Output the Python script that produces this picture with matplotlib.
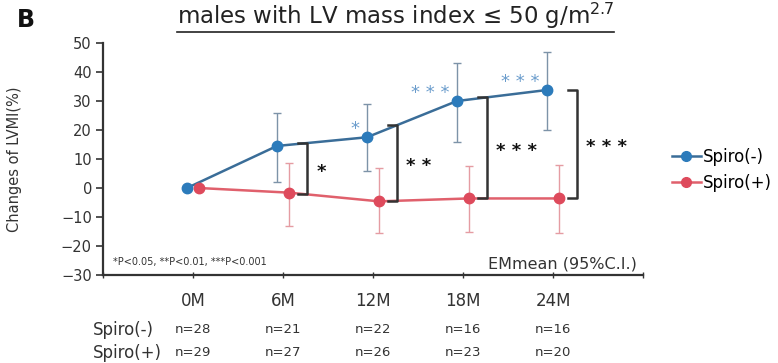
import numpy as np
import matplotlib
matplotlib.use('Agg')
import matplotlib.pyplot as plt
from matplotlib.lines import Line2D

plt.rcParams['font.family'] = ['DejaVu Sans']
plt.rcParams['mathtext.default'] = 'regular'

# data
months = ['0M', '6M', '12M', '18M', '24M']
spiro_minus = [0, 14.5, 17.5, 30.0, 33.8]
minus_lo = [0, 2.0, 6.0, 16.0, 20.0]
minus_hi = [0, 26.0, 29.0, 43.0, 47.0]
spiro_plus = [0, -1.6, -4.6, -3.6, -3.6]
plus_lo = [0, -13.0, -15.5, -15.0, -15.5]
plus_hi = [0, 8.7, 7.0, 7.5, 8.0]
n_minus = [28, 21, 22, 16, 16]
n_plus = [29, 27, 26, 23, 20]
between_sig = ['', '*', '**', '***', '***']   # Spiro(-) vs Spiro(+)
within_sig = ['', '', '*', '***', '***']       # Spiro(-) vs baseline

blue = '#2c7bbb'
blue_line = '#3a6d98'
blue_err = '#7d93a8'
red = '#de4a5c'
red_line = '#e0606c'
red_err = '#e59ca3'
txt = '#333333'

fig = plt.figure(figsize=(7.78, 3.63), dpi=100)
ax = fig.add_axes([0.1324, 0.2424, 0.6941, 0.6391])

x = np.arange(1, len(months) + 1)
off = 0.067
xm = x - off
xp = x + off

m = np.array(spiro_minus)
p = np.array(spiro_plus)
ax.errorbar(xm[1:], m[1:], yerr=[m[1:] - np.array(minus_lo[1:]), np.array(minus_hi[1:]) - m[1:]],
            fmt='none', ecolor=blue_err, elinewidth=1, capsize=3, capthick=1, zorder=2)
ax.errorbar(xp[1:], p[1:], yerr=[p[1:] - np.array(plus_lo[1:]), np.array(plus_hi[1:]) - p[1:]],
            fmt='none', ecolor=red_err, elinewidth=1, capsize=3, capthick=1, zorder=2)
ax.plot(xm, m, color=blue_line, lw=1.8, zorder=3)
ax.plot(xm, m, 'o', color=blue, ms=7.5, zorder=4)
ax.plot(xp, p, color=red_line, lw=1.8, zorder=3)
ax.plot(xp, p, 'o', color=red, ms=7.5, zorder=4)

# brackets between groups
for i, s in enumerate(between_sig):
    if not s:
        continue
    bx = x[i] + 0.27
    top = np.interp(bx, xm, m)
    bot = np.interp(bx, xp, p)
    ax.plot([bx - 0.1, bx, bx, bx - 0.1], [top, top, bot, bot], color='#333333', lw=1.8, zorder=5)
    ax.text(bx + 0.1, (top + bot) / 2 - 1.0, ' '.join(s), ha='left', va='center',
            fontsize=13, color='#111111', fontweight='bold')

# stars for Spiro(-) vs baseline
for i, s in enumerate(within_sig):
    if not s:
        continue
    ax.text(xm[i] - 0.08, m[i] + 2.8, ' '.join(s), ha='right', va='center',
            fontsize=13, color='#6a9ccc')

ax.set_xlim(0, 6)
ax.set_ylim(-30, 50)
ax.set_yticks(range(-30, 51, 10))
ax.set_xticks(range(0, 7))
ax.set_xticklabels([''] + months + [''])
ax.spines['top'].set_visible(False)
ax.spines['right'].set_visible(False)
for sp in ['left', 'bottom']:
    ax.spines[sp].set_color('#333333')
    ax.spines[sp].set_linewidth(1.6)
ax.tick_params(axis='y', direction='out', length=5, width=1.2, colors='#333333', labelsize=10.5, pad=3)
ax.tick_params(axis='x', direction='inout', length=5, width=1, colors='#333333', labelsize=12, pad=10)
ax.set_ylabel('Changes of LVMI(%)', fontsize=10.5, color=txt)
ax.yaxis.set_label_coords(-0.15, 0.5)

ax.text(0.11, -25.5, '*P<0.05, **P<0.01, ***P<0.001', fontsize=7, color=txt, ha='left', va='center')
ax.text(5.93, -26.3, 'EMmean (95%C.I.)', fontsize=11.5, color=txt, ha='right', va='center')

# n table under the axis
tr = ax.get_xaxis_transform()
ax.text(-0.11, -0.237, 'Spiro(-)', transform=tr, fontsize=12, color=txt, ha='left', va='center')
ax.text(-0.11, -0.336, 'Spiro(+)', transform=tr, fontsize=12, color=txt, ha='left', va='center')
for xi, a, b in zip(x, n_minus, n_plus):
    ax.text(xi, -0.237, f'n={a}', transform=tr, fontsize=9.5, color=txt, ha='center', va='center')
    ax.text(xi, -0.336, f'n={b}', transform=tr, fontsize=9.5, color=txt, ha='center', va='center')

# legend handles with line + marker
handles = [Line2D([], [], color=blue_line, lw=1.8, marker='o', ms=7, mfc=blue, mec=blue),
           Line2D([], [], color=red_line, lw=1.8, marker='o', ms=7, mfc=red, mec=red)]
ax.legend(handles, ['Spiro(-)', 'Spiro(+)'], loc='center left', bbox_to_anchor=(0.864, 0.532),
          bbox_transform=fig.transFigure, frameon=False, fontsize=12, handlelength=1.7,
          handletextpad=0.15, borderpad=0, borderaxespad=0, labelspacing=0.45)

fig.text(0.022, 0.945, 'B', fontsize=17, fontweight='bold', ha='left', va='center', color='#111111')
title = fig.text(0.508, 0.955, 'males with LV mass index ≤ 50 g/m$^{2.7}$', fontsize=16.5,
                 ha='center', va='center', color='#222222')

# underline the title
fig.canvas.draw()
bb = title.get_window_extent().transformed(fig.transFigure.inverted())
fig.add_artist(Line2D([bb.x0, bb.x1], [0.912, 0.912], transform=fig.transFigure,
                      color='#222222', lw=1.2))

fig.savefig('out.png', dpi=100)
